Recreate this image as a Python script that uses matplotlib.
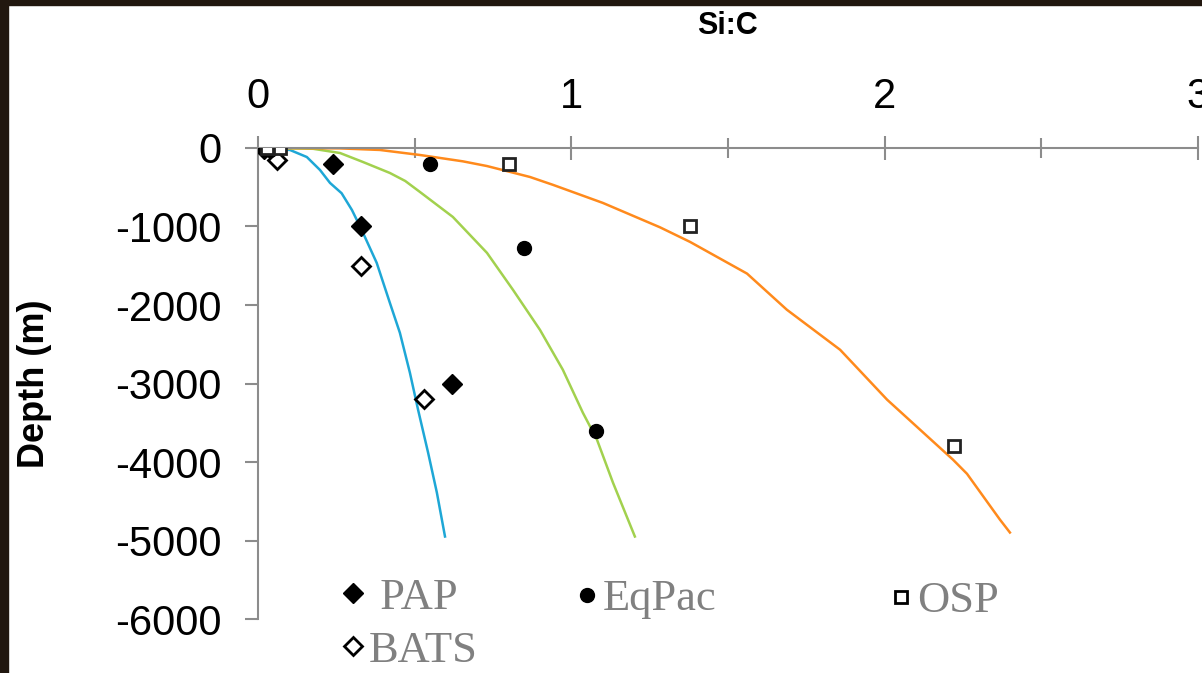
import matplotlib.pyplot as plt
from matplotlib.lines import Line2D
from matplotlib.patches import Rectangle

plt.rcParams['axes.unicode_minus'] = False

# modelled Si:C profiles (depth in m, negative downwards)
blue_x = [0, 0.102, 0.156, 0.198, 0.230, 0.267, 0.300, 0.331, 0.379, 0.421, 0.453, 0.485, 0.511, 0.543,
          0.571, 0.597]
blue_y = [0, -25, -115, -280, -445, -576, -790, -1043, -1463, -1972, -2354, -2863, -3333, -3880,
          -4389, -4949]

green_x = [0, 0.176, 0.262, 0.335, 0.421, 0.470, 0.517, 0.622, 0.731, 0.814, 0.900, 0.973, 1.037,
           1.082, 1.133, 1.203]
green_y = [0, -10, -64, -178, -318, -420, -560, -878, -1336, -1807, -2316, -2824, -3372,
           -3715, -4262, -4949]

orange_x = [0, 0.262, 0.389, 0.517, 0.654, 0.731, 0.868, 0.942, 1.101, 1.283, 1.379, 1.561, 1.688,
            1.858, 2.008, 2.218, 2.263, 2.368, 2.400]
orange_y = [0, -5, -25, -89, -170, -230, -369, -470, -700, -1010, -1196, -1600, -2060,
            -2570, -3206, -3969, -4150, -4733, -4898]

# observations
pap_x = [0.02, 0.24, 0.33, 0.62]
pap_y = [-10, -200, -1000, -3000]
bats_x = [0.06, 0.33, 0.53]
bats_y = [-150, -1500, -3200]
eqpac_x = [0.04, 0.55, 0.85, 1.08]
eqpac_y = [-20, -200, -1270, -3600]
osp_x = [0.03, 0.07, 0.80, 1.38, 2.22]
osp_y = [0, 0, -200, -1000, -3800]

fig = plt.figure(figsize=(12.02, 6.73), dpi=100)
ax = fig.add_axes([0.2146, 0.0802, 0.7820, 0.6999])

ax.plot(blue_x, blue_y, color='#1ea7d6', lw=1.8, zorder=2)
ax.plot(green_x, green_y, color='#a2d14e', lw=1.8, zorder=2)
ax.plot(orange_x, orange_y, color='#ff8a1c', lw=1.8, zorder=2)

ms = 10
ax.plot(pap_x, pap_y, 'D', color='black', ms=ms, ls='none', zorder=3)
ax.plot(bats_x, bats_y, 'D', mfc='white', mec='black', mew=2, ms=ms - 1, ls='none', zorder=3)
ax.plot(eqpac_x, eqpac_y, 'o', color='black', ms=ms, ls='none', zorder=3)
ax.plot(osp_x, osp_y, 's', mfc='white', mec='#222222', mew=2, ms=ms - 1, ls='none', zorder=3)

ax.set_xlim(0, 3)
ax.set_ylim(-6000, 0)
ax.set_xticks([0, 1, 2, 3])
ax.set_xticks([0.5, 1.5, 2.5], minor=True)
ax.set_yticks(range(-6000, 1, 1000))

for s in ['bottom', 'right']:
    ax.spines[s].set_visible(False)
for s in ['top', 'left']:
    ax.spines[s].set_color('#8c8c8c')
    ax.spines[s].set_linewidth(1.5)

ax.xaxis.tick_top()
ax.tick_params(axis='x', which='major', direction='inout', length=17, width=1.5,
               color='#8c8c8c', pad=14, labelsize=30)
ax.tick_params(axis='x', which='minor', direction='inout', length=14, width=1.5, color='#8c8c8c')
ax.tick_params(axis='y', direction='out', length=9.5, width=1.5, color='#8c8c8c',
               pad=17, labelsize=30)
for lab in ax.get_xticklabels() + ax.get_yticklabels():
    lab.set_fontfamily('Liberation Sans')

ax.text(0.5, 1.26, 'Si:C', transform=ax.transAxes, ha='center', va='center',
        fontsize=22, fontweight='bold', family='Liberation Sans')
ax.text(-0.238, 0.50, 'Depth (m)', transform=ax.transAxes, ha='center', va='center',
        rotation=90, fontsize=26, fontweight='bold', family='Liberation Sans')

# legend in three blocks
def entry(marker, filled):
    if filled:
        return Line2D([], [], marker=marker, color='black', ms=ms, ls='none')
    return Line2D([], [], marker=marker, mfc='white', mec='black', mew=2, ms=ms - 1, ls='none')

leg_kw = dict(frameon=False, borderpad=0, handlelength=0.5, handletextpad=0.1,
              labelspacing=0.3, labelcolor='#808080',
              prop={'family': 'Liberation Serif', 'size': 32})
leg1 = ax.legend([entry('D', True), entry('D', False)], [' PAP', 'BATS'],
                 loc='center left', bbox_to_anchor=(0.066, -0.011), **leg_kw)
ax.add_artist(leg1)
leg2 = ax.legend([entry('o', True)], ['EqPac'],
                 loc='center left', bbox_to_anchor=(0.315, 0.042), **leg_kw)
ax.add_artist(leg2)
ax.legend([entry('s', False)], ['OSP'],
          loc='center left', bbox_to_anchor=(0.649, 0.038), **leg_kw)

# dark frame on top and left
fig.add_artist(Rectangle((0, 1 - 5 / 673), 1, 5 / 673, transform=fig.transFigure,
                         color='#21170f', zorder=10))
fig.add_artist(Rectangle((0, 0), 8 / 1202, 1, transform=fig.transFigure,
                         color='#21170f', zorder=10))

fig.savefig('out.png', dpi=100)
